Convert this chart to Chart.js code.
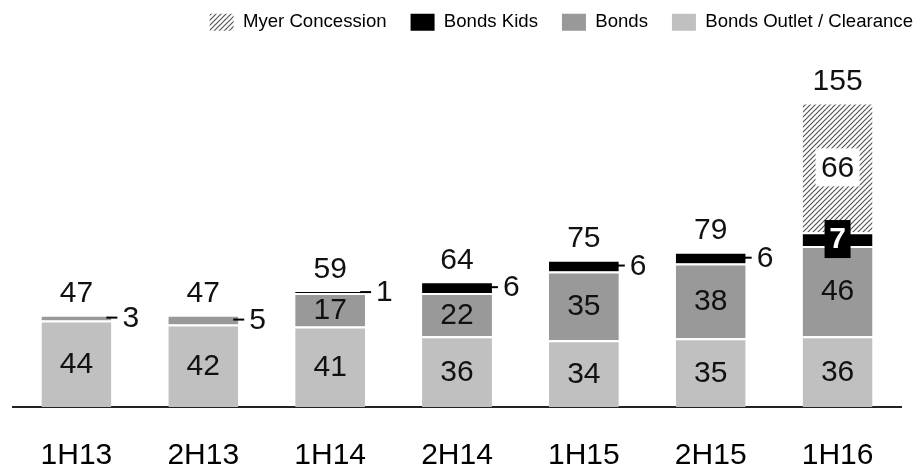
<!DOCTYPE html>
<html><head><meta charset="utf-8">
<script src="https://cdn.jsdelivr.net/npm/chart.js@4.4.1/dist/chart.umd.min.js"></script>
<style>html,body{margin:0;padding:0;background:#fff;overflow:hidden;}</style>
</head><body>
<canvas id="c" width="915" height="470"></canvas>
<script>
const categories = ['1H13','2H13','1H14','2H14','1H15','2H15','1H16'];
const outletValues = [44, 42, 41, 36, 34, 35, 36];
const bondsValues = [3, 5, 17, 22, 35, 38, 46];
const kidsValues = [null, null, 1, 6, 6, 6, 7];
const myerValues = [null, null, null, null, null, null, 66];
const totalValues = [47, 47, 59, 64, 75, 79, 155];
const seriesNames = ['Bonds Outlet / Clearance', 'Bonds', 'Bonds Kids', 'Myer Concession'];

const FONT = '"Liberation Sans", Arial, sans-serif';

function hatchPattern() {
  const t = document.createElement('canvas');
  t.width = 5; t.height = 5;
  const g = t.getContext('2d');
  g.fillStyle = '#ffffff'; g.fillRect(0, 0, 5, 5);
  g.strokeStyle = '#555555'; g.lineWidth = 1.2;
  g.beginPath();
  g.moveTo(-1, 1); g.lineTo(1, -1);
  g.moveTo(0, 5); g.lineTo(5, 0);
  g.moveTo(4, 6); g.lineTo(6, 4);
  g.stroke();
  return document.getElementById('c').getContext('2d').createPattern(t, 'repeat');
}

const labelPlugin = {
  id: 'segLabels',
  afterDatasetsDraw(chart) {
    const ctx = chart.ctx;
    const n = chart.data.labels.length;
    ctx.save();
    for (let i = 0; i < n; i++) {
      let topY = null, cx = null;
      chart.data.datasets.forEach((ds, di) => {
        const v = ds.data[i];
        if (v == null) return;
        const el = chart.getDatasetMeta(di).data[i];
        const cy = (el.y + el.base) / 2;
        const right = el.x + el.width / 2;
        cx = el.x;
        topY = topY == null ? el.y : Math.min(topY, el.y);
        const above = chart.data.datasets.slice(di + 1).some(d => d.data[i] != null);
        ctx.font = '30px ' + FONT;
        ctx.textBaseline = 'middle';
        if (v >= 10) {
          if (ds.labelBackground) {
            ctx.fillStyle = ds.labelBackground;
            ctx.fillRect(el.x - 22, cy - 19, 44, 38);
          }
          ctx.fillStyle = '#111';
          ctx.textAlign = 'center';
          ctx.fillText(String(v), el.x, cy + 1);
        } else if (above) {
          ctx.fillStyle = '#000';
          ctx.fillRect(el.x - 13, cy - 19, 26, 38);
          ctx.font = 'bold 30px ' + FONT;
          ctx.fillStyle = '#fff';
          ctx.textAlign = 'center';
          ctx.fillText(String(v), el.x, cy + 1);
        } else {
          ctx.strokeStyle = '#000';
          ctx.lineWidth = 2;
          ctx.beginPath();
          ctx.moveTo(right - 5, cy);
          ctx.lineTo(right + 6, cy);
          ctx.stroke();
          ctx.fillStyle = '#111';
          ctx.textAlign = 'left';
          ctx.fillText(String(v), right + 11, cy + 1);
        }
      });
      ctx.font = '30px ' + FONT;
      ctx.fillStyle = '#111';
      ctx.textAlign = 'center';
      ctx.textBaseline = 'middle';
      ctx.fillText(String(totalValues[i]), cx, topY - 21);
    }
    ctx.restore();
  }
};

const segBorder = {top: 2, left: 0, right: 0, bottom: 0};

new Chart(document.getElementById('c'), {
  type: 'bar',
  data: {
    labels: categories,
    datasets: [
      {label: seriesNames[0], data: outletValues, backgroundColor: '#c0c0c0', borderColor: '#ffffff', borderWidth: segBorder, borderSkipped: false},
      {label: seriesNames[1], data: bondsValues, backgroundColor: '#999999', borderColor: '#ffffff', borderWidth: segBorder, borderSkipped: false},
      {label: seriesNames[2], data: kidsValues, backgroundColor: '#000000', borderColor: '#ffffff', borderWidth: segBorder, borderSkipped: false},
      {label: seriesNames[3], data: myerValues, backgroundColor: hatchPattern(), borderColor: '#ffffff', borderWidth: segBorder, borderSkipped: false, labelBackground: '#ffffff'}
    ]
  },
  options: {
    responsive: false,
    animation: false,
    devicePixelRatio: 1,
    layout: {padding: {top: -11, bottom: -35, left: 0, right: -22}},
    datasets: {bar: {categoryPercentage: 1, barPercentage: 0.551}},
    plugins: {
      tooltip: {enabled: false},
      legend: {
        position: 'top', align: 'end', reverse: true,
        labels: {
          boxWidth: 24, boxHeight: 17, padding: 24, color: '#000',
          font: {size: 18.6, family: FONT},
          generateLabels(chart) {
            const items = Chart.defaults.plugins.legend.labels.generateLabels(chart);
            items.forEach(it => { it.lineWidth = 0; it.strokeStyle = 'rgba(0,0,0,0)'; });
            return items;
          }
        }
      }
    },
    scales: {
      x: {
        stacked: true,
        grid: {display: false, drawTicks: false},
        border: {display: true, color: '#222', width: 2},
        ticks: {color: '#000', font: {size: 30, family: FONT, lineHeight: 1}, padding: 34}
      },
      y: {
        stacked: true, min: 0, max: 186,
        grid: {display: false, drawTicks: false},
        border: {display: false},
        ticks: {display: false},
        afterFit(s) { s.width = 13; }
      },
      yR: {
        position: 'right', display: true,
        grid: {display: false, drawTicks: false},
        border: {display: false},
        ticks: {display: false},
        afterFit(s) { s.width = 36; }
      }
    }
  },
  plugins: [labelPlugin]
});
</script>
</body></html>
